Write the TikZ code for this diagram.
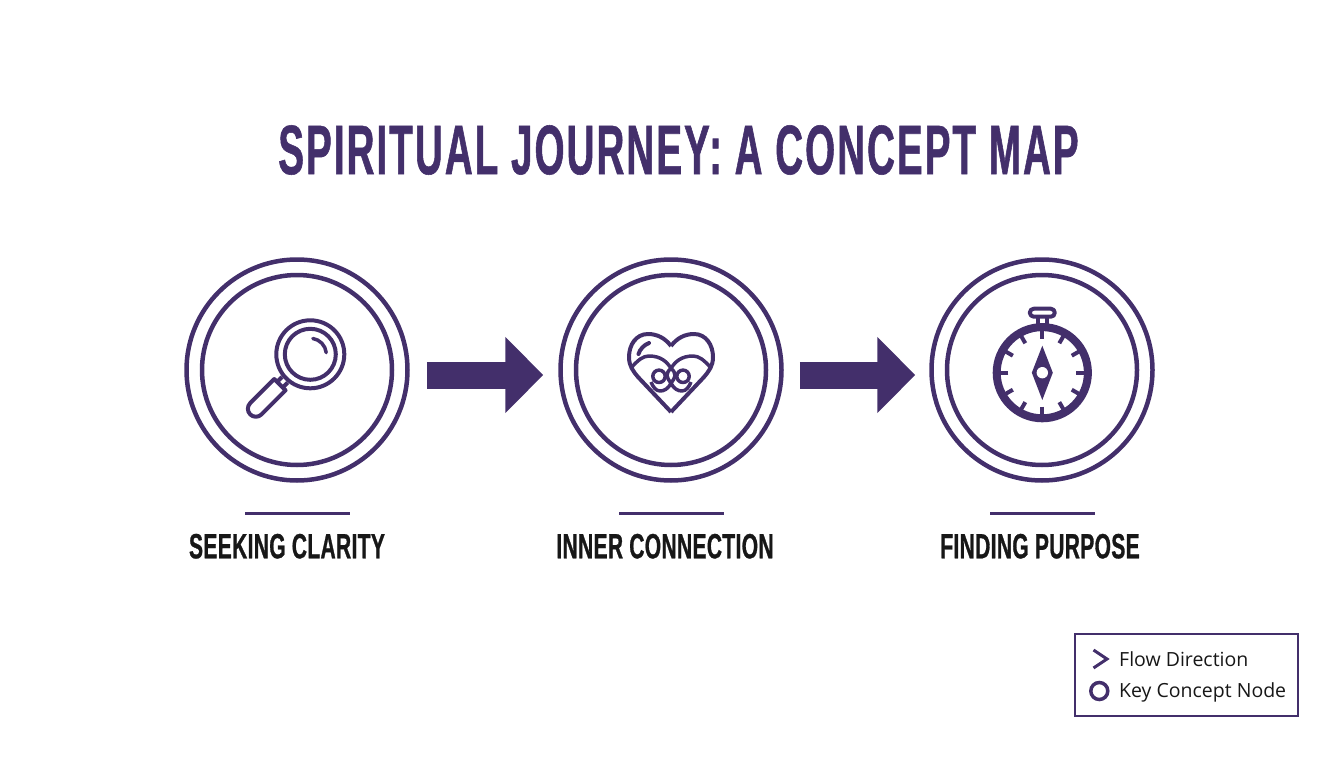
\documentclass[tikz,border=0pt]{standalone}
\usepackage{fontspec}
\setmainfont{Open Sans}
\newfontfamily\headfont[FakeStretch=0.55,LetterSpace=3,FakeBold=0.8]{Liberation Sans Bold}
\newfontfamily\capfont[FakeStretch=0.6,LetterSpace=1,FakeBold=0.8]{Liberation Sans Bold}
\usetikzlibrary{positioning,arrows.meta}
\definecolor{deep}{HTML}{432F6B}
\definecolor{ink}{HTML}{171717}
\tikzset{
  ring/.style={draw=deep,circle,line width=4.5pt,inner sep=0pt},
  rulebar/.style={fill=deep,minimum width=105pt,minimum height=3.5pt,inner sep=0pt},
  caption/.style={font=\capfont\fontsize{35}{35}\selectfont,text=ink,inner sep=0pt},
  icon/.style={draw=deep,line width=4pt,line join=round},
  flow/.style={draw=deep,line width=27pt,-{Triangle[length=38pt,width=74pt,fill=deep]}},
  keytext/.style={font=\fontsize{19.5}{19.5}\selectfont,text=ink,inner sep=0pt,anchor=west}
}
\begin{document}
\begin{tikzpicture}[x=1pt,y=-1pt]
  \useasboundingbox (0,0) rectangle (1344,768);
  % title
  \node[inner sep=0pt,text=deep,font=\headfont\fontsize{70}{70}\selectfont] (title) at (678.5,150) {SPIRITUAL JOURNEY: A CONCEPT MAP};
  % concept nodes
  \node[ring,minimum size=221pt] (seeking) at (297,370) {};
  \node[ring,minimum size=221pt,right=148.5pt of seeking] (inner) {};
  \node[ring,minimum size=221pt,right=145.5pt of inner] (finding) {};
  \node[ring,minimum size=190pt] (seekingin) at (seeking) {};
  \node[ring,minimum size=190pt] (innerin) at (inner) {};
  \node[ring,minimum size=190pt] (findingin) at (finding) {};
  % arrows
  \draw[flow,shorten <=17pt,shorten >=15pt] ([yshift=-5pt]seeking.east) -- ([yshift=-5pt]inner.west);
  \draw[flow,shorten <=16pt,shorten >=14pt] ([yshift=-5pt]inner.east) -- ([yshift=-5pt]finding.west);
  % rules and captions
  \node[rulebar,below=29pt of seeking] (seekingbar) {};
  \node[rulebar,below=29pt of inner] (innerbar) {};
  \node[rulebar,below=29pt of finding] (findingbar) {};
  \node[caption,below=18pt of seekingbar,xshift=-10pt] (seekingtext) {SEEKING CLARITY};
  \node[caption,below=18pt of innerbar,xshift=-6pt] (innertext) {INNER CONNECTION};
  \node[caption,below=18pt of findingbar,xshift=-2pt] (findingtext) {FINDING PURPOSE};
  % magnifier
  \begin{scope}[shift={(seeking)},shift={(13.3,-15.7)}]
    \draw[icon] (0,0) circle (34);
    \draw[icon] (0,0) circle (25.5);
    \draw[icon,line cap=round,line width=3.5pt] (-81:16) arc (-81:-6:16);
    \begin{scope}[rotate=-135]
      \draw[icon] (36,-4) -- (43,-4) (36,4) -- (43,4);
      \draw[icon] (43,-8) -- (43,8) -- (77,8) arc (90:-90:8) -- cycle;
    \end{scope}
  \end{scope}
  % heart
  \begin{scope}[shift={(inner)}]
    \foreach \s in {1,-1} {
      \begin{scope}[xscale=\s]
        \draw[icon] (0,-24) .. controls (-6,-32) and (-14,-36) .. (-23,-36)
          .. controls (-35,-36) and (-42,-25) .. (-42,-13)
          .. controls (-42,-4) and (-38,1) .. (-33,7) -- (0,42);
        \draw[icon,line width=3.5pt] (-40,-2) .. controls (-33,-10) and (-28,-14) .. (-22,-14)
          .. controls (-10,-14) and (-4,-8) .. (0,-1.7)
          .. controls (3,1) and (4,3) .. (4,5.7)
          .. controls (4,8) and (2,10) .. (0,13.3)
          .. controls (-3,19) and (-7,21) .. (-11,21)
          .. controls (-15,21) and (-18,17) .. (-20,12);
        \draw[icon,line width=3.5pt] (-12,6.3) circle (6.2);
      \end{scope}
    }
    \draw[icon,line cap=round,line width=4pt] (-32.5,-16) .. controls (-31,-21) and (-27,-25) .. (-22,-27);
  \end{scope}
  % compass
  \begin{scope}[shift={(finding)},shift={(0.3,2.7)}]
    \draw[icon,line width=8pt] (0,0) circle (45.6);
    \foreach \a in {0,30,...,330} {
      \draw[icon] (\a:34) -- (\a:44);
    }
    \fill[deep] (0,-27) -- (10.5,0) -- (0,27.3) -- (-10.5,0) -- cycle;
    \fill[white] (0,0) circle (5.7);
    \draw[icon] (-4.5,-47) -- (-4.5,-56) (4.5,-47) -- (4.5,-56);
    \draw[icon,rounded corners=4pt] (-12.5,-64) rectangle (12.5,-56);
  \end{scope}
  % key
  \node[draw=deep,line width=1.5pt,minimum width=223pt,minimum height=82pt,inner sep=0pt] (legend) at (1186.5,675) {};
  \node[keytext] (flowkey) at (1119,659) {Flow Direction};
  \node[keytext] (nodekey) at (1119,692) {Key Concept Node};
  \draw[icon,line join=miter,line width=3pt] (1093.5,650) -- (1107,659) -- (1093.5,668);
  \node[ring,line width=3.5pt,minimum size=17pt] (ringkey) at (1099.3,691) {};
\end{tikzpicture}
\end{document}
